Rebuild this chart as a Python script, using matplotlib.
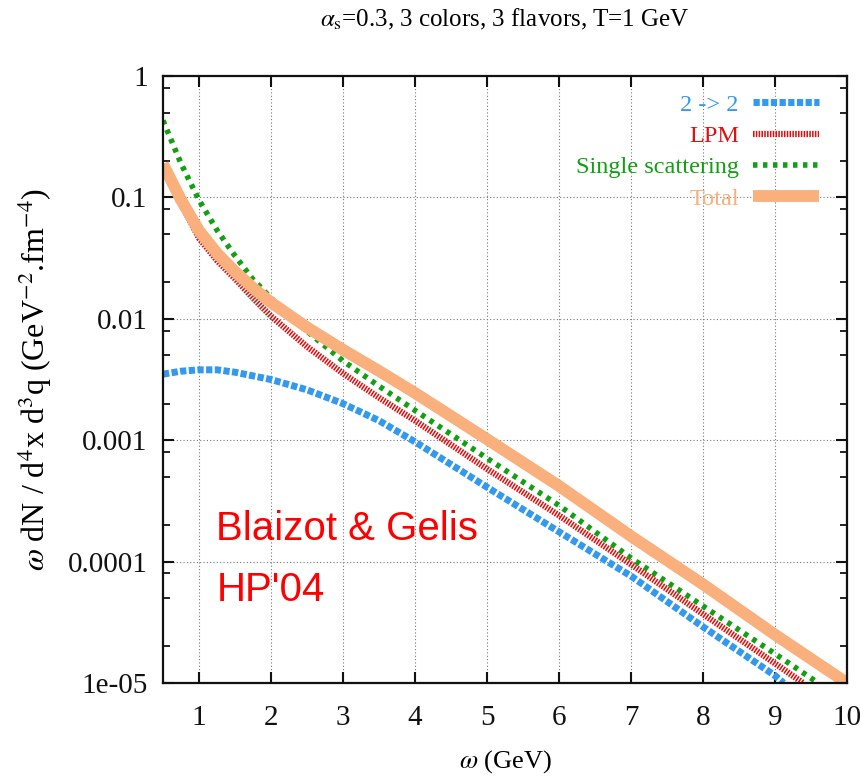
import matplotlib
matplotlib.use("Agg")
import matplotlib.pyplot as plt
from matplotlib.ticker import FixedLocator, FixedFormatter, LogLocator, NullFormatter

# ---- data ----
omega_total = [0.5, 0.75, 1.0, 1.25, 1.5, 1.75, 2.0, 2.5, 3.0, 3.5, 4.0, 5.0, 6.0, 7.0, 8.0, 9.0, 10.0]
total = [0.188, 0.0955, 0.0532, 0.0347, 0.0245, 0.018, 0.01365, 0.0085, 0.00556, 0.00372,
         0.00245, 0.00102, 0.00042, 0.000162, 6.5e-5, 2.5e-5, 1.0e-5]

omega_single = [0.5, 0.75, 1.0, 1.25, 1.5, 1.75, 2.0, 2.25, 2.5, 3.0, 3.5, 4.0, 5.0, 6.0, 7.0, 8.0, 9.0, 9.6]
single = [0.43, 0.19, 0.095, 0.0537, 0.033, 0.0211, 0.0148, 0.0106, 0.0079, 0.0045, 0.00279,
          0.00176, 0.00071, 0.00029, 0.000107, 4.3e-5, 1.74e-5, 1.0e-5]

omega_lpm = [0.5, 0.75, 1.0, 1.25, 1.5, 1.75, 2.0, 2.5, 3.0, 3.5, 4.0, 5.0, 6.0, 7.0, 8.0, 9.0, 9.39]
lpm = [0.186, 0.089, 0.0462, 0.0302, 0.0214, 0.0148, 0.0105, 0.0059, 0.00355, 0.00224,
       0.00145, 0.00058, 0.00024, 9.5e-5, 3.7e-5, 1.45e-5, 1.0e-5]

omega_22 = [0.5, 0.75, 1.0, 1.25, 1.5, 2.0, 2.5, 3.0, 3.5, 4.0, 5.0, 6.0, 7.0, 8.0, 9.0, 9.12]
two_two = [0.0035, 0.0037, 0.0038, 0.0038, 0.00363, 0.00316, 0.0026, 0.0020, 0.00145,
           0.00097, 0.00041, 0.000176, 7.6e-5, 2.9e-5, 1.15e-5, 1.0e-5]

xticks = [1, 2, 3, 4, 5, 6, 7, 8, 9, 10]
yticks = [1e-5, 1e-4, 1e-3, 1e-2, 1e-1, 1]
ytick_labels = ["1e-05", "0.0001", "0.001", "0.01", "0.1", "1"]

labels = ["2 -> 2", "LPM", "Single scattering", "Total"]
colors = ["#3399ee", "#dd1111", "#11a011", "#f9b07c"]

# ---- figure ----
plt.rcParams["font.family"] = ["Liberation Serif", "DejaVu Serif"]
plt.rcParams["mathtext.fontset"] = "stix"

fig = plt.figure(figsize=(8.61, 7.78), dpi=100)
ax = fig.add_axes([163/861, 1-683/778, (847-163)/861, (683-76)/778])

ax.plot(omega_22, two_two, color=colors[0], lw=5, linestyle=(0, (0.9, 0.35)),
        dash_capstyle="butt", label=labels[0], zorder=3)
ax.plot(omega_lpm, lpm, color=colors[1], lw=4.5, linestyle=(0, (0.25, 0.2)),
        dash_capstyle="butt", label=labels[1], zorder=4)
ax.plot(omega_single, single, color=colors[2], lw=4, linestyle=(0, (0.8, 1.0)),
        dash_capstyle="butt", label=labels[2], zorder=5)
ax.plot(omega_total, total, color=colors[3], lw=8.5, solid_capstyle="butt",
        label=labels[3], zorder=6)

ax.set_yscale("log")
ax.set_xlim(0.5, 10)
ax.set_ylim(1e-5, 1)

ax.xaxis.set_major_locator(FixedLocator(xticks))
ax.set_xticklabels([str(t) for t in xticks])
ax.yaxis.set_major_locator(FixedLocator(yticks))
ax.yaxis.set_major_formatter(FixedFormatter(ytick_labels))
ax.yaxis.set_minor_locator(LogLocator(base=10, subs=(2.0, 5.0, 8.0)))
ax.yaxis.set_minor_formatter(NullFormatter())

ax.tick_params(axis="both", which="major", direction="in", length=8, width=1.5,
               top=True, right=True, labelsize=21, colors="#111111")
ax.tick_params(axis="y", which="major", pad=11)
ax.tick_params(axis="x", which="major", pad=16)
ax.tick_params(axis="y", which="minor", direction="in", length=5, width=1.2,
               left=True, right=True)
for s in ax.spines.values():
    s.set_linewidth(1.6)
    s.set_color("#111111")
    s.set_zorder(7)

ax.grid(True, which="major", color="#777777", linestyle=(0, (1, 2)), lw=0.8)

ax.set_title(r"$\alpha_{\rm s}$=0.3, 3 colors, 3 flavors, T=1 GeV", fontsize=18, pad=36)
ax.set_xlabel(r"$\omega$ (GeV)", fontsize=19, labelpad=12)
ax.set_ylabel(r"$\omega$ dN / d$^4$x d$^3$q (GeV$^{-2}$.fm$^{-4}$)", fontsize=23, labelpad=10)

ax.text(0.078, 0.235, "Blaizot & Gelis", transform=ax.transAxes, color="red",
        fontsize=29, family="Liberation Sans")
ax.text(0.078, 0.135, "HP'04", transform=ax.transAxes, color="red",
        fontsize=29, family="Liberation Sans")

leg = ax.legend(loc="upper right", bbox_to_anchor=(1.0, 1.0 + 10/607), frameon=False,
                markerfirst=False, fontsize=17.5,
                handlelength=2.7, handletextpad=0.6, labelspacing=0.38,
                borderaxespad=0.75, labelcolor="linecolor")
leg.set_zorder(8)

fig.savefig("out.png", dpi=100)
